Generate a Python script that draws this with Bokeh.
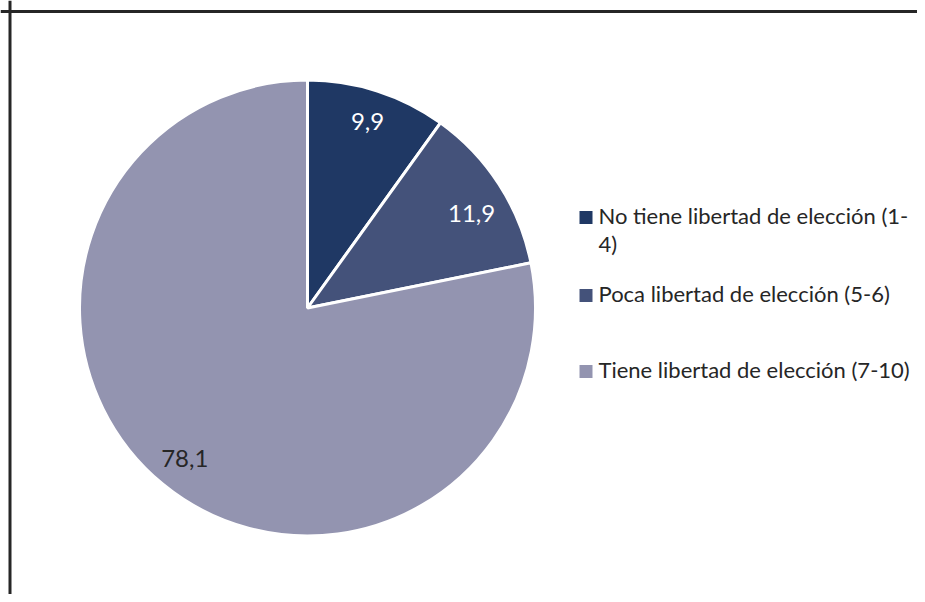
import math
from bokeh.plotting import figure
from bokeh.models import Range1d, Span, ColumnDataSource
from bokeh.core.properties import value
from bokeh.embed import file_html
from bokeh.resources import INLINE

# ---- data ----
categories = ["No tiene libertad de elección (1-\n4)",
              "Poca libertad de elección (5-6)",
              "Tiene libertad de elección (7-10)"]
values = [9.9, 11.9, 78.1]
value_labels = ["9,9", "11,9", "78,1"]
colors = ["#1F3864", "#44527A", "#9394B0"]
label_colors = ["#FFFFFF", "#FFFFFF", "#262626"]

# ---- layout (pixels) ----
W, H = 917, 594
CX, CY = 307, 286.5
R = 228
FONT = "Lato"
label_r = [0.86, 0.83, 0.85]
label_shift = [0, -3, 0]  # small angular nudge in degrees

p = figure(width=W, height=H, output_backend="svg", toolbar_location=None,
           x_range=Range1d(0, W), y_range=Range1d(0, H), min_border=0)
p.axis.visible = False
p.grid.visible = False
p.outline_line_color = None
p.background_fill_color = "white"

# frame (only left and top visible in the crop)
p.add_layout(Span(location=583, dimension="width", line_color="#262626", line_width=3))
p.add_layout(Span(location=9.5, dimension="height", line_color="#262626", line_width=3))

total = sum(values)
starts, ends, lx, ly = [], [], [], []
cum = 0.0
for i, v in enumerate(values):
    a0 = math.pi / 2 - 2 * math.pi * cum / total
    cum += v
    a1 = math.pi / 2 - 2 * math.pi * cum / total
    starts.append(a0)
    ends.append(a1)
    mid = (a0 + a1) / 2 + math.radians(label_shift[i])
    lx.append(CX + label_r[i] * R * math.cos(mid))
    ly.append(CY + label_r[i] * R * math.sin(mid))

src = ColumnDataSource(dict(start=starts, end=ends, color=colors,
                            lx=lx, ly=ly, lab=value_labels, lc=label_colors))
p.wedge(x=CX, y=CY, radius=R, radius_units="screen", start_angle="start",
        end_angle="end", direction="clock", fill_color="color",
        line_color="white", line_width=3, source=src)
p.text(x="lx", y="ly", text="lab", text_color="lc", source=src,
       text_font=value(FONT), text_font_size="24px",
       text_align="center", text_baseline="middle")

# legend
leg_y = [377, 299, 223]
sq_x = [585.5] * 3
tx = [598] * 3
p.scatter(x=sq_x, y=leg_y, marker="square", size=13, fill_color=colors,
          line_color=None)
p.text(x=tx, y=[y + 15.5 for y in leg_y], text=categories, text_color="#262626",
       text_font=value(FONT), text_font_size="22px", text_align="left",
       text_baseline="top", text_line_height=1.05)

open("out.html", "w").write(file_html(p, INLINE))
